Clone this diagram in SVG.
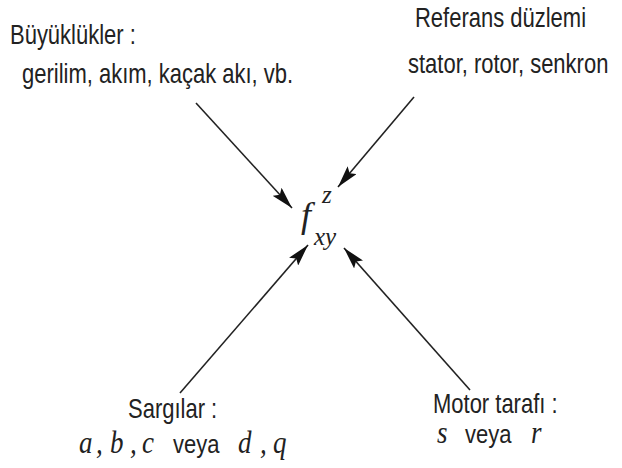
<svg xmlns="http://www.w3.org/2000/svg" width="622" height="468" viewBox="0 0 622 468">
<defs>
<style>
.s{font-family:"Liberation Sans",Arial,sans-serif;font-size:22px;fill:#222}
.m{font-family:"Liberation Serif","Times New Roman",serif;font-style:italic;font-size:27px;fill:#222}
.c{stroke:#222;stroke-width:1.6;fill:none;marker-end:url(#ah)}
</style>
<marker id="ah" viewBox="0 0 22 12" refX="22" refY="6" markerWidth="22" markerHeight="12" markerUnits="userSpaceOnUse" orient="auto">
<path d="M0,0 L22,6 L0,12 L4,6 Z" fill="#111"/>
</marker>
</defs>
<rect width="622" height="468" fill="#fff"/>
<g id="connectors">
<line class="c" x1="196" y1="103" x2="292" y2="208"/>
<line class="c" x1="414" y1="97" x2="338" y2="187"/>
<line class="c" x1="180" y1="393" x2="308" y2="245"/>
<line class="c" x1="470" y1="390" x2="344" y2="248"/>
</g>
<g id="quantities">
<text class="s" transform="translate(10,44) scale(1,1.22)">Büyüklükler :</text>
<text class="s" transform="translate(22,83) scale(1,1.22)">gerilim, akım, kaçak akı, vb.</text>
</g>
<g id="reference-frame">
<text class="s" transform="translate(415,27) scale(1,1.22)">Referans düzlemi</text>
<text class="s" transform="translate(408,73) scale(1,1.22)">stator, rotor, senkron</text>
</g>
<g id="center">
<text class="m" x="301" y="227" style="font-size:36px">f</text>
<text class="m" x="322" y="203" style="font-size:25px">z</text>
<text class="m" x="314" y="245" style="font-size:25px">xy</text>
</g>
<g id="windings">
<text class="s" transform="translate(128,418) scale(1,1.22)">Sargılar :</text>
<text transform="translate(0,453) scale(1,1.15)"><tspan class="m" x="79">a</tspan><tspan class="m" x="96">,</tspan><tspan class="m" x="110">b</tspan><tspan class="m" x="130">,</tspan><tspan class="m" x="142">c</tspan><tspan class="s" x="173">veya</tspan><tspan class="m" x="238">d</tspan><tspan class="m" x="260">,</tspan><tspan class="m" x="273">q</tspan></text>
</g>
<g id="motor-side">
<text class="s" transform="translate(433,413) scale(1,1.22)">Motor tarafı :</text>
<text transform="translate(0,443) scale(1,1.15)"><tspan class="m" x="437">s</tspan><tspan class="s" x="465">veya</tspan><tspan class="m" x="531">r</tspan></text>
</g>
</svg>
